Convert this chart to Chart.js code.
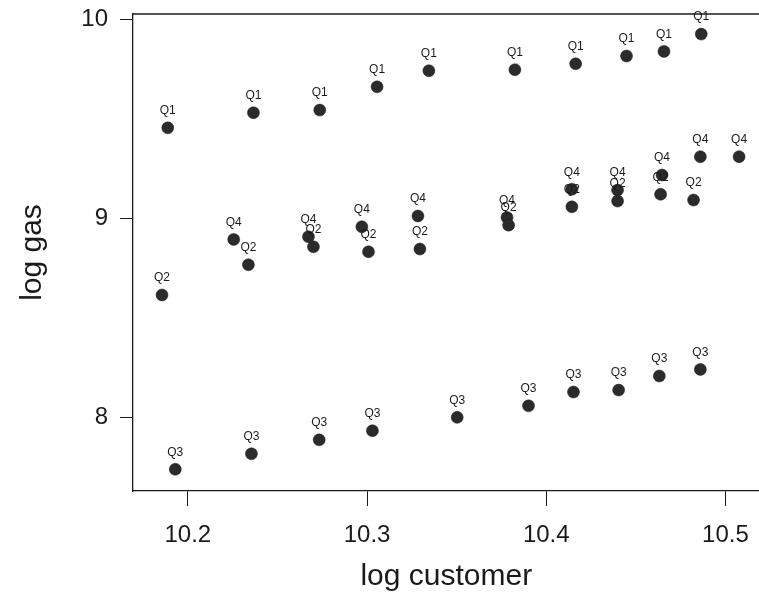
<!DOCTYPE html>
<html>
<head>
<meta charset="utf-8">
<script src="https://cdn.jsdelivr.net/npm/chart.js@4/dist/chart.umd.min.js"></script>
<style>
html,body{margin:0;padding:0;background:#fff;overflow:hidden;}
#wrap{width:759px;height:595px;overflow:hidden;}
#c{display:block;}
</style>
</head>
<body>
<div id="wrap"><canvas id="c" width="766" height="595"></canvas></div>
<script>
// Data
const q1X = [10.1888, 10.2366, 10.2736, 10.3056, 10.3345, 10.3825, 10.4164, 10.4448, 10.4657, 10.4865];
const q1Y = [9.456, 9.532, 9.545, 9.662, 9.743, 9.748, 9.778, 9.817, 9.840, 9.927];
const q2X = [10.1856, 10.2338, 10.2701, 10.3008, 10.3295, 10.3790, 10.4143, 10.4398, 10.4638, 10.4822];
const q2Y = [8.616, 8.768, 8.858, 8.833, 8.847, 8.967, 9.059, 9.088, 9.122, 9.093];
const q3X = [10.1930, 10.2355, 10.2733, 10.3030, 10.3503, 10.3901, 10.4152, 10.4404, 10.4631, 10.4860];
const q3Y = [7.740, 7.818, 7.888, 7.934, 8.001, 8.059, 8.128, 8.138, 8.209, 8.242];
const q4X = [10.2256, 10.2673, 10.2971, 10.3284, 10.3781, 10.4143, 10.4398, 10.4646, 10.4860, 10.5076];
const q4Y = [8.895, 8.909, 8.959, 9.013, 9.006, 9.147, 9.143, 9.219, 9.311, 9.311];
const quarterNames = ["Q1", "Q2", "Q3", "Q4"];
const xTicks = [10.2, 10.3, 10.4, 10.5];
const yTicks = [8, 9, 10];
const xTitle = "log customer";
const yTitle = "log gas";

const pairs = (xs, ys) => xs.map((x, i) => ({x: x, y: ys[i]}));
const series = [pairs(q1X, q1Y), pairs(q2X, q2Y), pairs(q3X, q3Y), pairs(q4X, q4Y)];

const FONT = "'Liberation Sans', Arial, Helvetica, sans-serif";
const INK = '#1a1a1a';

const pointLabels = {
  id: 'pointLabels',
  afterDatasetsDraw(chart) {
    const ctx = chart.ctx;
    ctx.save();
    ctx.font = '12px ' + FONT;
    ctx.fillStyle = INK;
    ctx.textAlign = 'center';
    ctx.textBaseline = 'middle';
    chart.data.datasets.forEach((ds, di) => {
      const meta = chart.getDatasetMeta(di);
      meta.data.forEach(el => {
        ctx.fillText(ds.label, el.x, el.y - 17);
      });
    });
    ctx.restore();
  }
};

const boxTop = {
  id: 'boxTop',
  afterDraw(chart) {
    const a = chart.chartArea, ctx = chart.ctx;
    ctx.save();
    ctx.strokeStyle = INK;
    ctx.lineWidth = 1.3;
    ctx.beginPath();
    ctx.moveTo(a.left, a.top);
    ctx.lineTo(chart.width, a.top);
    ctx.stroke();
    ctx.restore();
  }
};

new Chart(document.getElementById('c'), {
  type: 'scatter',
  data: {
    datasets: series.map((pts, i) => ({
      label: quarterNames[i],
      data: pts,
      pointRadius: 6,
      pointHoverRadius: 6,
      pointBackgroundColor: '#2b2b2b',
      pointBorderColor: '#1a1a1a',
      pointBorderWidth: 0.5
    }))
  },
  options: {
    responsive: false,
    animation: false,
    devicePixelRatio: 1,
    layout: {padding: {left: 0, top: 14, right: 0, bottom: 0}},
    plugins: {legend: {display: false}, tooltip: {enabled: false}},
    scales: {
      x: {
        type: 'linear',
        min: 10.1694,
        max: 10.519,
        afterBuildTicks: s => { s.ticks = xTicks.map(v => ({value: v})); },
        afterFit: s => { s.height = 104; s.paddingLeft = 0; s.paddingRight = 0; },
        border: {display: true, color: INK, width: 1.3},
        grid: {drawOnChartArea: false, drawTicks: true, tickLength: 15, tickColor: INK, tickWidth: 1},
        ticks: {color: INK, font: {family: FONT, size: 24, lineHeight: 1.8}, padding: 8, callback: v => v.toFixed(1)},
        title: {display: true, text: xTitle, color: INK, font: {family: FONT, size: 30}, padding: {top: 0, bottom: 0}}
      },
      y: {
        type: 'linear',
        min: 7.631,
        max: 10.028,
        afterBuildTicks: s => { s.ticks = yTicks.map(v => ({value: v})); },
        afterFit: s => { s.width = 133; s.paddingTop = 0; s.paddingBottom = 0; },
        border: {display: true, color: INK, width: 1.3},
        grid: {drawOnChartArea: false, drawTicks: true, tickLength: 13, tickColor: INK, tickWidth: 1},
        ticks: {color: INK, font: {family: FONT, size: 24}, padding: 12, callback: v => String(v)},
        title: {display: true, text: yTitle, color: INK, font: {family: FONT, size: 30}, padding: {top: 15, bottom: 0}}
      }
    }
  },
  plugins: [pointLabels, boxTop]
});
</script>
</body>
</html>
